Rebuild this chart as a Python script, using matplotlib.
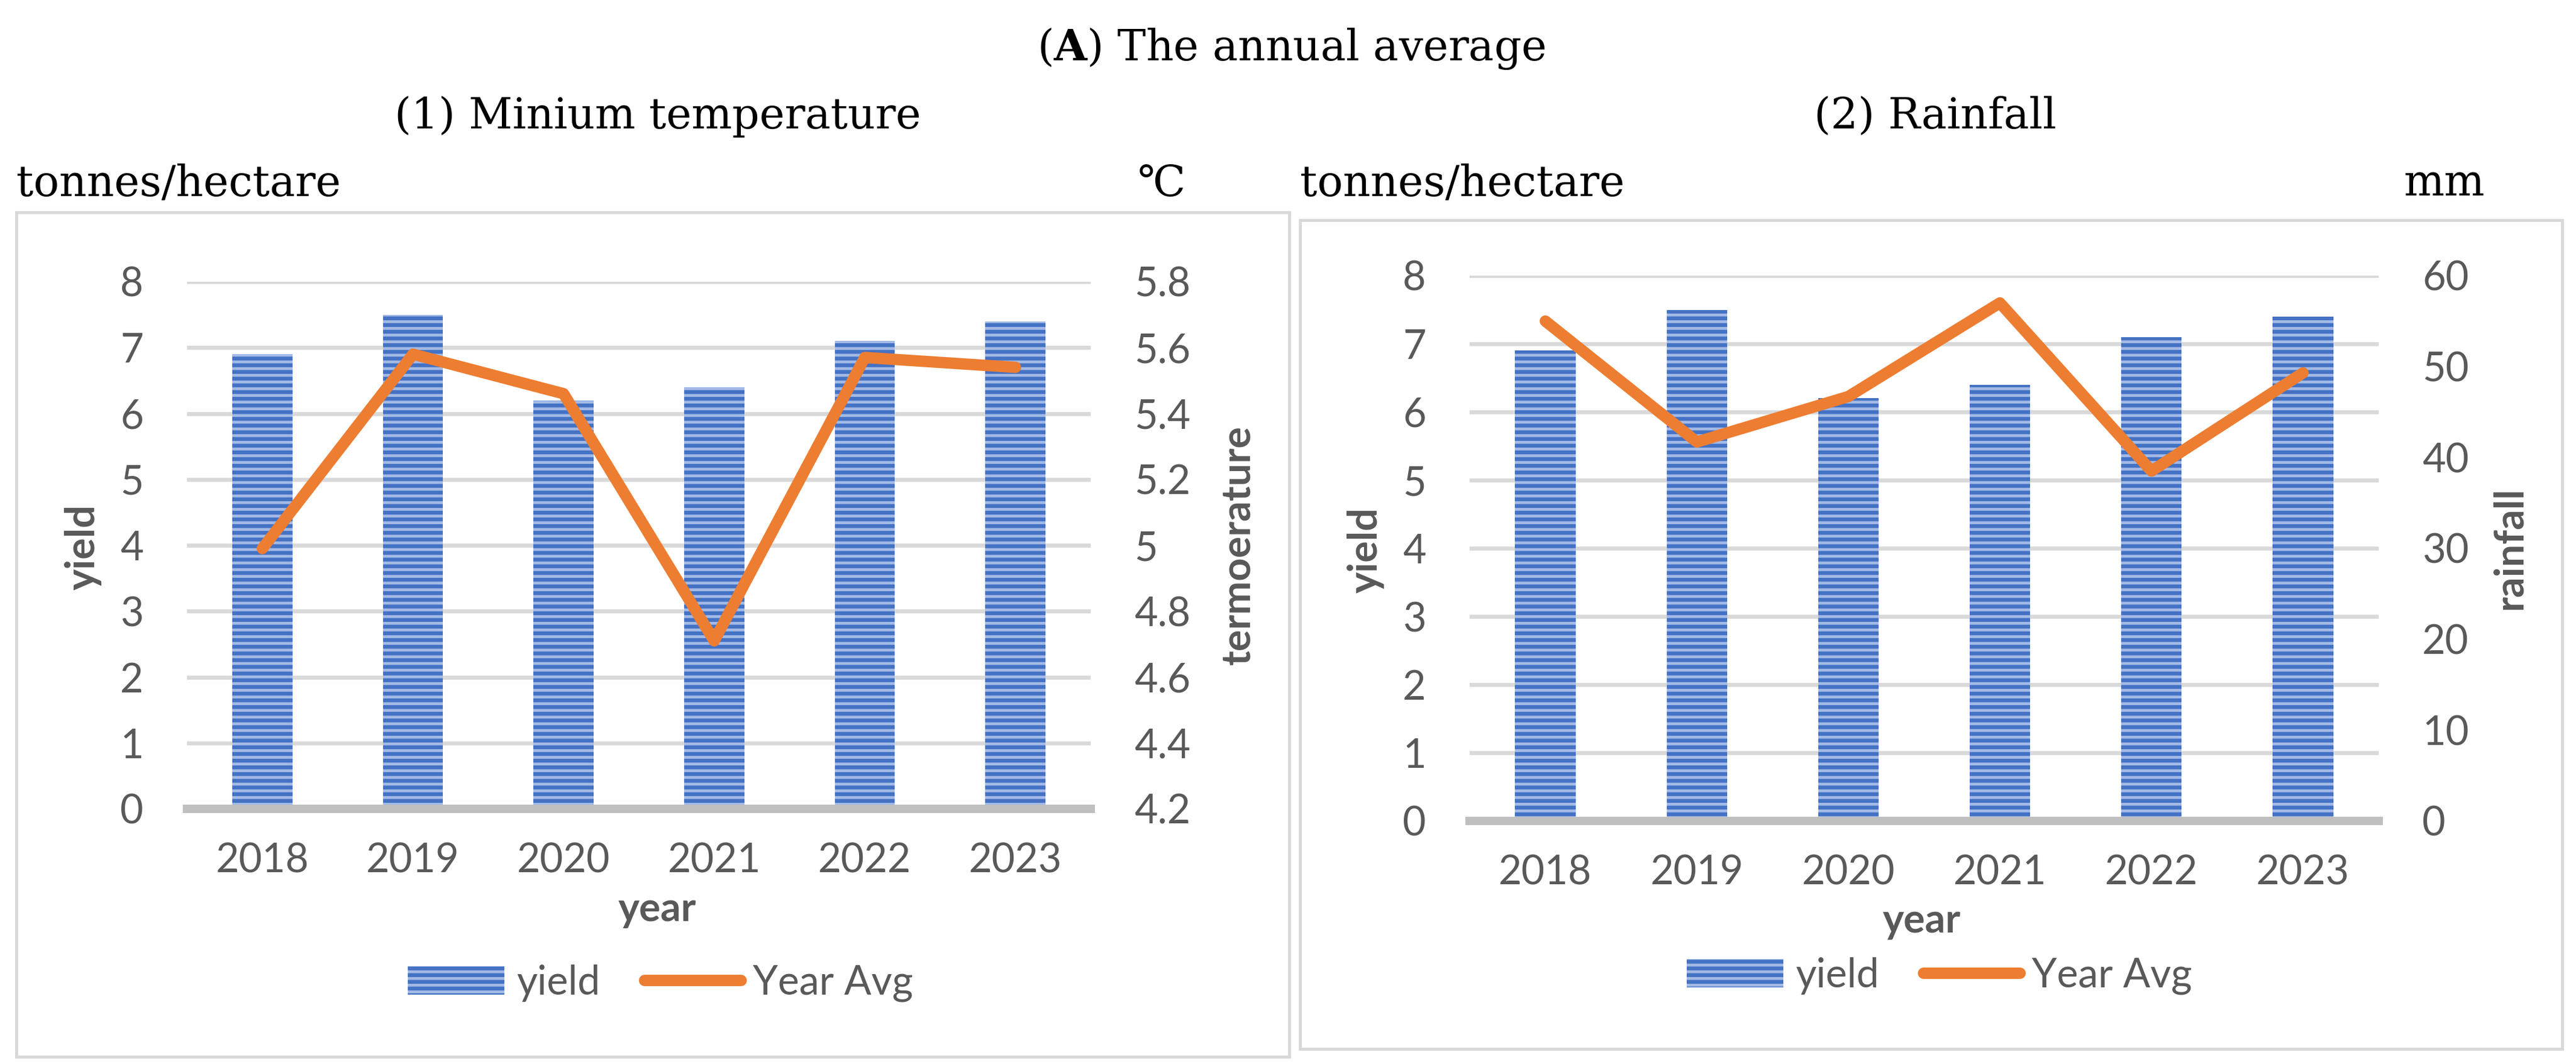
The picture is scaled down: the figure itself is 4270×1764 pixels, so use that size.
import numpy as np
import matplotlib
matplotlib.use("Agg")
import matplotlib.pyplot as plt
from matplotlib.patches import Rectangle

# data
years = ["2018", "2019", "2020", "2021", "2022", "2023"]
yield_t = [6.9, 7.5, 6.2, 6.4, 7.1, 7.4]
min_temp = [4.99, 5.58, 5.46, 4.71, 5.57, 5.54]
rainfall = [55.0, 41.7, 46.7, 57.0, 38.5, 49.3]

temp_ticks = [4.2, 4.4, 4.6, 4.8, 5.0, 5.2, 5.4, 5.6, 5.8]
rain_ticks = [0, 10, 20, 30, 40, 50, 60]
yield_ticks = [0, 1, 2, 3, 4, 5, 6, 7, 8]

BLUE = "#4472C4"
BLUE_LIGHT = "#A3BAE6"
ORANGE = "#ED7D31"
GREY_TXT = "#595959"
GRID = "#D9D9D9"

plt.rcParams["font.family"] = ["Lato", "DejaVu Sans"]
plt.rcParams["mathtext.fontset"] = "dejavuserif"
plt.rcParams["hatch.linewidth"] = 2.3
plt.rcParams["hatch.color"] = BLUE

W, H = 4270, 1764
fig = plt.figure(figsize=(W / 200, H / 200), dpi=200)


def fx(px):
    return px / W


def fy(py):
    return 1 - py / H


def panel(box, ax_box, right_vals, right_ticks, right_lim):
    # frame around each chart
    bx0, by0, bx1, by1 = box
    fig.add_artist(Rectangle((fx(bx0), fy(by1)), fx(bx1 - bx0), (by1 - by0) / H,
                             transform=fig.transFigure, fill=False,
                             edgecolor=GRID, linewidth=1.8))
    x0, ytop, x1, ybot = ax_box
    ax = fig.add_axes([fx(x0), fy(ybot), fx(x1 - x0), (ybot - ytop) / H])
    x = np.arange(len(years))
    ax.bar(x, yield_t, width=0.4, facecolor=BLUE_LIGHT, edgecolor=BLUE,
           linewidth=0, hatch="---", label="yield")
    ax.set_xlim(-0.5, len(years) - 0.5)
    ax.set_ylim(0, 8)
    ax.set_yticks(yield_ticks)
    ax.set_xticks(x)
    ax.set_xticklabels(years)
    ax.set_axisbelow(True)
    ax.yaxis.grid(True, color=GRID, linewidth=2.4)
    for s in ["top", "left", "right"]:
        ax.spines[s].set_visible(False)
    ax.spines["bottom"].set_color("#BFBFBF")
    ax.spines["bottom"].set_linewidth(5)
    ax.tick_params(axis="y", length=0, pad=26, labelsize=24, labelcolor=GREY_TXT)
    ax.tick_params(axis="x", length=0, pad=20, labelsize=24, labelcolor=GREY_TXT)

    ax2 = ax.twinx()
    ax2.plot(x, right_vals, color=ORANGE, linewidth=6.8,
             solid_capstyle="round", solid_joinstyle="round", label="Year Avg")
    ax2.set_ylim(*right_lim)
    ax2.set_yticks(right_ticks)
    ax2.set_yticklabels([f"{v:g}" for v in right_ticks])
    for s in ax2.spines.values():
        s.set_visible(False)
    ax2.tick_params(axis="y", length=0, pad=26, labelsize=24, labelcolor=GREY_TXT)
    return ax, ax2


# (1) minimum temperature
axL, axL2 = panel((27, 352, 2137, 1752), (310, 467, 1808, 1341),
                  min_temp, temp_ticks, (4.2, 5.8))
# (2) rainfall
axR, axR2 = panel((2155, 365, 4247, 1739), (2436, 457, 3943, 1361),
                  rainfall, rain_ticks, (0, 60))

serif = dict(family="DejaVu Serif", fontsize=25.5, color="black")
fig.text(fx(2140), fy(80), r"($\mathbf{A}$) The annual average", ha="center", va="center", **serif)
fig.text(fx(1090), fy(193), "(1) Minium temperature", ha="center", va="center", **serif)
fig.text(fx(3208), fy(193), "(2) Rainfall", ha="center", va="center", **serif)
fig.text(fx(27), fy(305), "tonnes/hectare", ha="left", va="center", **serif)
fig.text(fx(2155), fy(305), "tonnes/hectare", ha="left", va="center", **serif)
fig.text(fx(1925), fy(305), "\u2103", ha="center", va="center", **serif)
fig.text(fx(4052), fy(305), "mm", ha="center", va="center", **serif)

lab = dict(fontsize=24, color=GREY_TXT, fontweight="bold", ha="center", va="center")
fig.text(fx(138), fy(907), "yield", rotation=90, **lab)
fig.text(fx(2264), fy(912), "yield", rotation=90, **lab)
fig.text(fx(2052), fy(904), "termoerature", rotation=90, **lab)
fig.text(fx(4160), fy(908), "rainfall", rotation=90, **lab)
fig.text(fx(1089), fy(1508), "year", **lab)
fig.text(fx(3185), fy(1527), "year", **lab)

for ax, ax2, cx, cy in [(axL, axL2, 1095, 1630), (axR, axR2, 3215, 1618)]:
    h1, l1 = ax.get_legend_handles_labels()
    h2, l2 = ax2.get_legend_handles_labels()
    fig.legend(h1 + h2, l1 + l2, loc="center", bbox_to_anchor=(fx(cx), fy(cy)),
               ncol=2, frameon=False, fontsize=24, labelcolor=GREY_TXT,
               handlelength=2.4, handletextpad=0.3, columnspacing=1.1)

fig.savefig("out.png", dpi=200, facecolor="white")
